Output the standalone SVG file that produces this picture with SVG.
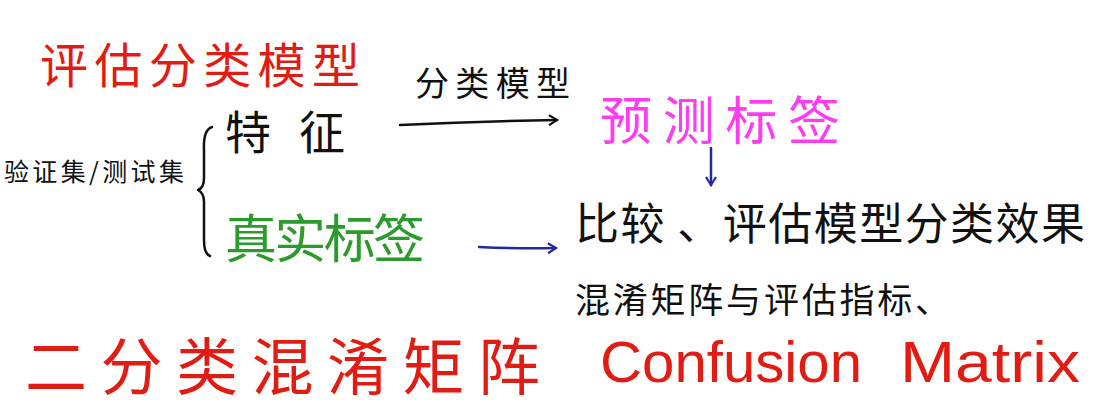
<svg xmlns="http://www.w3.org/2000/svg" width="1096" height="406" viewBox="0 0 1096 406">
<defs>
<style>
text{font-family:"Noto Sans CJK SC","Noto Sans",sans-serif;font-weight:400;}
.red{fill:#e01c14;}
.blk{fill:#111;}
.grn{fill:#2c9a2c;}
.mag{fill:#ff3cf0;}
.latin{font-family:"Liberation Sans","Noto Sans",sans-serif;}
.line{fill:none;stroke-width:2.5;stroke-linecap:round;stroke-linejoin:round;}
</style>
<marker id="ahK" viewBox="0 0 12 12" refX="10" refY="6" markerWidth="12" markerHeight="12" markerUnits="userSpaceOnUse" orient="auto"><path d="M2,1 L10,6 L2,11" fill="none" stroke="#111" stroke-width="2.2"/></marker>
<marker id="ahB" viewBox="0 0 12 12" refX="10" refY="6" markerWidth="12" markerHeight="12" markerUnits="userSpaceOnUse" orient="auto"><path d="M2,1 L10,6 L2,11" fill="none" stroke="#1f2a9e" stroke-width="2.2"/></marker>
</defs>
<rect width="1096" height="406" fill="#fff"/>
<g id="title"><text class="red" x="40" y="83" font-size="48" textLength="320" lengthAdjust="spacing">评估分类模型</text></g>
<g id="dataset"><text class="blk" x="4" y="181" font-size="25" textLength="180" lengthAdjust="spacing">验证集/测试集</text></g>
<g id="brace"><path class="line" stroke="#111" d="M212,127 Q203,130 204,150 L204,178 Q204,188 198,190 Q204,193 204,202 L204,240 Q204,254 210,256"/></g>
<g id="features"><text class="blk" x="225" y="149" font-size="46" textLength="120" lengthAdjust="spacing">特征</text></g>
<g id="model-label"><text class="blk" x="415" y="96" font-size="34" textLength="155" lengthAdjust="spacing">分类模型</text></g>
<g id="predicted"><text class="mag" x="600" y="140" font-size="52" textLength="240" lengthAdjust="spacing">预测标签</text></g>
<g id="true-label"><text class="grn" x="225" y="258" font-size="52" textLength="200" lengthAdjust="spacing">真实标签</text></g>
<g id="compare"><text class="blk" x="575" y="240" font-size="44" textLength="510" lengthAdjust="spacing">比较 、评估模型分类效果</text></g>
<g id="metrics"><text class="blk" x="575" y="313" font-size="35" textLength="375" lengthAdjust="spacing">混淆矩阵与评估指标、</text></g>
<g id="binary"><text class="red" x="25" y="390" font-size="62" textLength="515" lengthAdjust="spacing">二分类混淆矩阵</text></g>
<g id="confusion"><text class="red latin" x="600" y="382" font-size="58" textLength="262" lengthAdjust="spacingAndGlyphs">Confusion</text><text class="red latin" x="900" y="382" font-size="58" textLength="180" lengthAdjust="spacingAndGlyphs">Matrix</text></g>
<g id="connectors">
<path class="line" stroke="#111" d="M400,125 Q480,121 557,120" marker-end="url(#ahK)"/>
<path class="line" stroke="#1f2a9e" d="M711,148 L711,185" marker-end="url(#ahB)"/>
<path class="line" stroke="#1f2a9e" d="M479,247 Q520,249 556,248" marker-end="url(#ahB)"/>
</g>
</svg>
